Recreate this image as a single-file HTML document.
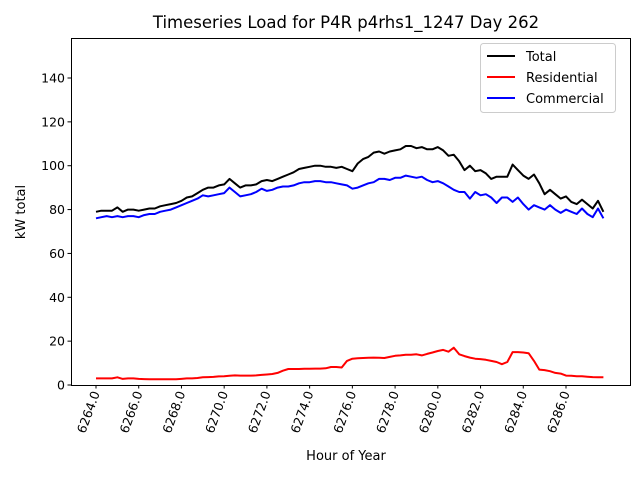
<!DOCTYPE html>
<html><head><meta charset="utf-8"><style>
body{margin:0;background:#fff}
svg{font-family:"DejaVu Sans","Liberation Sans",sans-serif}
</style></head><body>
<svg id="chart" width="640" height="480">
<rect width="640" height="480" fill="#fff"/>
<text x="346" y="28" font-size="16.5" text-anchor="middle">Timeseries Load for P4R p4rhs1_1247  Day 262</text>
<g id="plot"></g>
<text x="346" y="460" font-size="13" text-anchor="middle">Hour of Year</text>
<text x="25" y="212" font-size="13" text-anchor="middle" transform="rotate(-90 25 212)">kW total</text>
<g>
<rect x="480.5" y="43.5" width="135" height="69" fill="#fff" stroke="#ccc" rx="3"/>
<line x1="487" y1="56" x2="515" y2="56" stroke="#000" stroke-width="2"/>
<text x="526" y="61" font-size="13">Total</text>
<line x1="487" y1="77" x2="515" y2="77" stroke="#f00" stroke-width="2"/>
<text x="526" y="82" font-size="13">Residential</text>
<line x1="487" y1="98" x2="515" y2="98" stroke="#00f" stroke-width="2"/>
<text x="526" y="103" font-size="13">Commercial</text>
</g>
</svg>
<script>
const startHour = 6264;
const stepHour = 0.25;
const totalVals = [79,79.5,79.5,79.5,81,79,80,80,79.5,80,80.5,80.5,81.5,82,82.5,83,84,85.5,86,87.5,89,90,90,91,91.5,94,92,90,91,91,91.5,93,93.5,93,94,95,96,97,98.5,99,99.5,100,100,99.5,99.5,99,99.5,98.5,97.5,101,103,104,106,106.5,105.5,106.5,107,107.5,109,109,108,108.5,107.5,107.5,108.5,107,104.5,105,102,98,100,97.5,98,96.5,94,95,95,95,100.5,98,95.5,94,96,92,87,89,87,85,86,83.5,82.5,84.5,82.5,80.5,84,79];
const commVals = [76,76.5,77,76.5,77,76.5,77,77,76.5,77.5,78,78,79,79.5,80,81,82,83,84,85,86.5,86,86.5,87,87.5,90,88,86,86.5,87,88,89.5,88.5,89,90,90.5,90.5,91,92,92.5,92.5,93,93,92.5,92.5,92,91.5,91,89.5,90,91,92,92.5,94,94,93.5,94.5,94.5,95.5,95,94.5,95,93.5,92.5,93,92,90.5,89,88,88,85,88,86.5,87,85.5,83,85.5,85.5,83.5,85.5,82.5,80,82,81,80,82,80,78.5,80,79,78,80.5,78,76.5,80.5,76];
const resVals = [3,3,3,3,3.5,2.8,3,3,2.8,2.7,2.6,2.6,2.6,2.6,2.6,2.6,2.8,3,3,3.2,3.5,3.6,3.7,3.9,4,4.2,4.4,4.3,4.3,4.3,4.4,4.6,4.8,5,5.5,6.5,7.3,7.3,7.3,7.4,7.4,7.5,7.5,7.6,8.2,8.2,8,11,12,12.2,12.3,12.4,12.5,12.4,12.3,12.8,13.3,13.5,13.8,13.8,14,13.5,14.2,14.8,15.5,16,15.2,17,14,13.2,12.5,12,11.8,11.5,11,10.5,9.5,10.5,15,15,14.8,14.5,11,7,6.8,6.3,5.5,5.2,4.3,4.2,4,4,3.8,3.6,3.5,3.5];
const yTicks = [0,20,40,60,80,100,120,140];
const xTicks = [6264,6266,6268,6270,6272,6274,6276,6278,6280,6282,6284,6286];

const L=71,R=631,T=38,B=385;
function xs(h){return 96+(h-6264)*(470/22);}
function ys(v){return 385-v*(307/140);}
const NS="http://www.w3.org/2000/svg";
const g=document.getElementById('plot');
function mk(t,a){const e=document.createElementNS(NS,t);for(const k in a)e.setAttribute(k,a[k]);g.appendChild(e);return e;}
yTicks.forEach(v=>{
  const y=ys(v);
  const tk=mk('line',{x1:L-3.5,x2:L,y1:y,y2:y,stroke:'#000'});
  
  
  const t=mk('text',{x:L-6,y:y+4.5,'font-size':12.5,'text-anchor':'end'});
  t.textContent=v;
  
  
});
xTicks.forEach(h=>{
  const x=xs(h);
  const tk=mk('line',{x1:x,x2:x,y1:B,y2:B+3.5,stroke:'#000'});
  
  
  const t=mk('text',{x:x+4,y:B+8,'font-size':12.5,'text-anchor':'end',transform:`rotate(-70 ${x+4} ${B+8})`});
  t.textContent=h.toFixed(1);
  
  
});
function line(vals,color,name){
  const pts=vals.map((v,i)=>xs(startHour+i*stepHour).toFixed(1)+','+ys(v).toFixed(1)).join(' ');
  const p=mk('polyline',{points:pts,fill:'none',stroke:color,'stroke-width':2,'stroke-linejoin':'round'});
  
  
}
line(totalVals,'#000','total-line');
line(resVals,'#f00','residential-line');
line(commVals,'#00f','commercial-line');
const fr=mk('rect',{x:L+0.5,y:T+0.5,width:R-L-1,height:B-T,fill:'none',stroke:'#000'});


</script>
</body></html>
